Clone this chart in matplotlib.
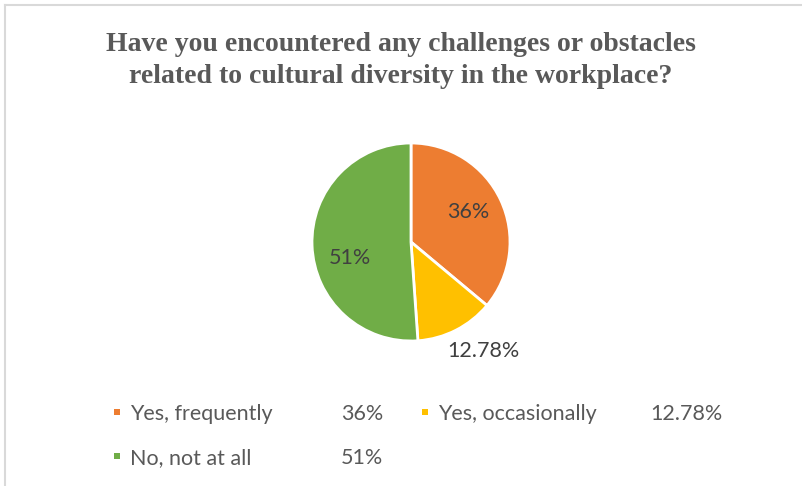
import matplotlib

matplotlib.use("Agg")
import matplotlib.pyplot as plt
import numpy as np
from matplotlib.lines import Line2D
from matplotlib.patches import Rectangle

title_lines = [
    "Have you encountered any challenges or obstacles",
    "related to cultural diversity in the workplace?",
]
categories = ["Yes, frequently", "Yes, occasionally", "No, not at all"]
values = [36.0, 12.78, 51.0]
value_labels = ["36%", "12.78%", "51%"]
colors = ["#ED7D31", "#FFC000", "#70AD47"]

TEXT_COLOR = "#595959"
BODY_FONT = "Lato"
W, H = 802, 486


def fx(px):
    return px / W


def fy(py):
    return 1 - py / H


fig = plt.figure(figsize=(W / 100, H / 100), dpi=100, facecolor="white")

# light frame on the top and left edges
fig.add_artist(Line2D([fx(5), 1], [fy(5), fy(5)], color="#D9D9D9", lw=1.5))
fig.add_artist(Line2D([fx(5), fx(5)], [0, fy(5)], color="#D9D9D9", lw=1.5))

for line, base in zip(title_lines, [51, 83]):
    fig.text(
        0.5, fy(base), line,
        ha="center", va="baseline", fontsize=20, fontweight="bold",
        family="Liberation Serif", color=TEXT_COLOR,
    )

# pie centred at (411, 242) px with a 99 px radius
cx, cy, r = 411, 242, 99
ax = fig.add_axes([fx(cx - r), fy(cy + r), 2 * r / W, 2 * r / H])
wedges, _ = ax.pie(
    values,
    colors=colors,
    startangle=90,
    counterclock=False,
    wedgeprops={"edgecolor": "white", "linewidth": 2},
)
ax.set_xlim(-1, 1)
ax.set_ylim(-1, 1)
ax.set_aspect("equal")
ax.axis("off")

# data labels: distance from centre and angular nudge per slice
label_dist = [0.65, 1.32, 0.64]
label_turn = [3, 6.5, 13]
for wedge, text, dist, turn in zip(wedges, value_labels, label_dist, label_turn):
    mid = np.deg2rad((wedge.theta1 + wedge.theta2) / 2 + turn)
    ax.text(
        dist * np.cos(mid), dist * np.sin(mid), text,
        ha="center", va="center", fontsize=15.5, family=BODY_FONT,
        color="#404040", clip_on=False,
    )

# two-column legend with values
name_x = [130, 438]
value_x = [341, 650]
row_base = [420, 464]
for i, (name, label, color) in enumerate(zip(categories, value_labels, colors)):
    col, row = i % 2, i // 2
    base = row_base[row]
    fig.add_artist(Rectangle(
        (fx(name_x[col] - 16), fy(base - 5)), 6 / W, 6 / H,
        facecolor=color, edgecolor="none", transform=fig.transFigure,
    ))
    fig.text(fx(name_x[col]), fy(base), name, ha="left", va="baseline",
             fontsize=15.5, family=BODY_FONT, color=TEXT_COLOR)
    fig.text(fx(value_x[col]), fy(base), label, ha="left", va="baseline",
             fontsize=15.5, family=BODY_FONT, color=TEXT_COLOR)

fig.savefig("out.png", dpi=100, facecolor="white")
